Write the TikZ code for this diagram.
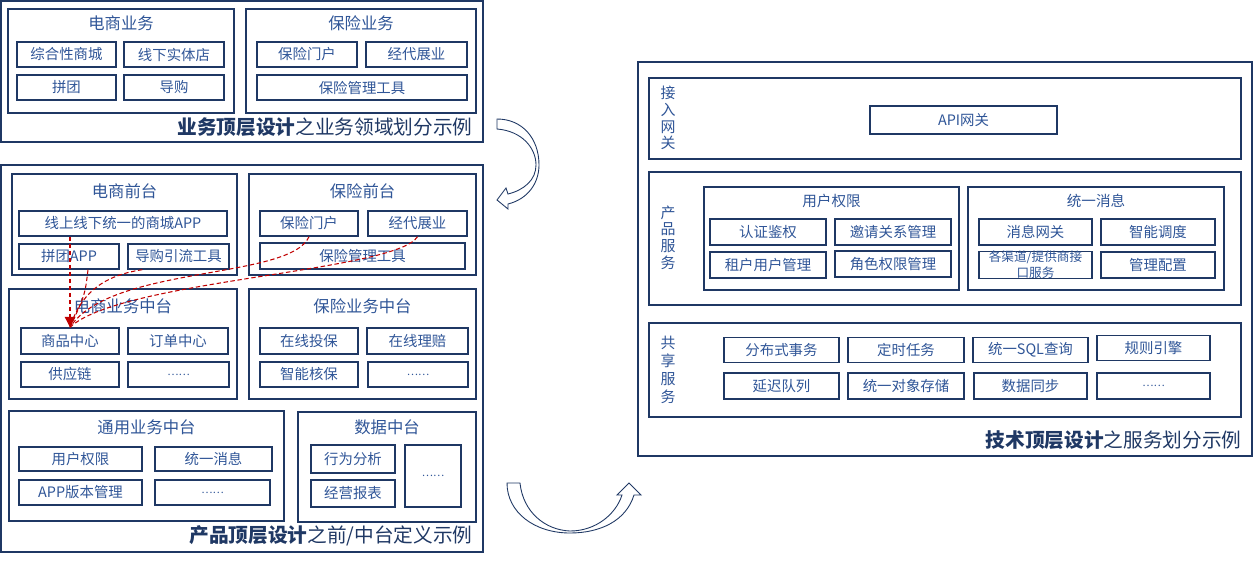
\documentclass[tikz,border=0pt]{standalone}
\usepackage{fontspec}
\setmainfont{Noto Sans CJK SC}
\usetikzlibrary{arrows.meta,calc}
\definecolor{navy}{HTML}{1F3864}
\definecolor{txtblue}{HTML}{2F5597}
\definecolor{dashred}{HTML}{C00000}

\begin{document}
\begin{tikzpicture}[x=0.02cm,y=-0.02cm,
	sz/.style 2 args={minimum width=#1*0.02cm,minimum height=#2*0.02cm},
	panel/.style={draw=navy,line width=0.9pt,inner sep=0pt},
	area/.style={draw=navy,line width=0.8pt,inner sep=0pt},
	item/.style={draw=navy,line width=0.8pt,inner sep=0pt,text=txtblue,font=\fontsize{8.2}{9}\selectfont},
	dots/.style={font=\fontsize{6}{7}\selectfont},
	head/.style={text=txtblue,inner sep=0pt,font=\fontsize{9.3}{10}\selectfont},
	subhead/.style={text=txtblue,inner sep=0pt,font=\fontsize{8.3}{9}\selectfont},
	vlabel/.style={text=txtblue,inner sep=0pt,align=center,font=\fontsize{8.5}{9.5}\selectfont},
	ttl/.style={text=navy,inner sep=0pt,anchor=east,font=\fontsize{11.2}{12}\selectfont},
	flow/.style={draw=dashred,line width=0.6pt,dash pattern=on 2.5pt off 1.5pt},
	bendarrow/.style={draw=navy,line width=0.5pt,fill=white}]
	\useasboundingbox (0,0) rectangle (1255,561);

	% business top level
	\node[panel,sz={482}{141}] (biz) at (242,71.5) {};
	\node[area,sz={226}{104}] (ecBiz) at (121,61) {};
	\node[head] (ecBizT) at (121,23) {电商业务};
	\node[item,sz={99}{25}] (mall) at (66.5,54.5) {综合性商城};
	\node[item,sz={100}{25}] (store) at (174,54.5) {线下实体店};
	\node[item,sz={99}{25}] (group) at (66.5,87.5) {拼团};
	\node[item,sz={100}{25}] (guide) at (174,87.5) {导购};
	\node[area,sz={230}{104}] (insBiz) at (361,61) {};
	\node[head] (insBizT) at (361,23) {保险业务};
	\node[item,sz={100}{25}] (portal) at (307,54.5) {保险门户};
	\node[item,sz={101}{25}] (broker) at (416.5,54.5) {经代展业};
	\node[item,sz={210}{25}] (tool) at (362,87.5) {保险管理工具};
	\node[ttl] (bizT) at (473,127) {\textbf{业务顶层设计}之业务领域划分示例};

	% product top level
	\node[panel,sz={482}{387}] (prod) at (242,358.5) {};
	\node[area,sz={225}{101}] (ecFront) at (124.5,224.5) {};
	\node[head] (ecFrontT) at (124.5,191) {电商前台};
	\node[item,sz={208}{25}] (app) at (123,223.5) {线上线下统一的商城APP};
	\node[item,sz={100}{25}] (ptapp) at (69,256.5) {拼团APP};
	\node[item,sz={101}{25}] (dgyl) at (178.5,256.5) {导购引流工具};
	\node[area,sz={227}{101}] (insFront) at (362.5,224.5) {};
	\node[head] (insFrontT) at (362.5,191) {保险前台};
	\node[item,sz={98}{25}] (insPortal) at (309,223.5) {保险门户};
	\node[item,sz={99}{25}] (agent) at (417.5,223.5) {经代展业};
	\node[item,sz={205}{26}] (insTool) at (362.5,256) {保险管理工具};

	\node[area,sz={228}{110}] (ecMid) at (123,344) {};
	\node[head] (ecMidT) at (123,306) {电商业务中台};
	\node[item,sz={98}{26}] (goods) at (70,341) {商品中心};
	\node[item,sz={100}{26}] (order) at (178,341) {订单中心};
	\node[item,sz={98}{25}] (supply) at (70,374.5) {供应链};
	\node[item,dots,sz={101}{25}] (ecMore) at (178.5,374.5) {……};
	\node[area,sz={227}{110}] (insMid) at (362.5,344) {};
	\node[head] (insMidT) at (362.5,306) {保险业务中台};
	\node[item,sz={98}{26}] (online) at (309,341) {在线投保};
	\node[item,sz={101}{26}] (claim) at (417.5,341) {在线理赔};
	\node[item,sz={98}{25}] (uw) at (309,374.5) {智能核保};
	\node[item,dots,sz={100}{25}] (insMore) at (418,374.5) {……};

	\node[area,sz={275}{110}] (common) at (146.5,466) {};
	\node[head] (commonT) at (146.5,427) {通用业务中台};
	\node[item,sz={123}{24}] (auth) at (80.5,459) {用户权限};
	\node[item,sz={117}{24}] (msg) at (213.5,459) {统一消息};
	\node[item,sz={123}{25}] (appver) at (80.5,492.5) {APP版本管理};
	\node[item,dots,sz={115}{25}] (cmMore) at (212.5,492.5) {……};
	\node[area,sz={178}{110}] (data) at (387,467) {};
	\node[head] (dataT) at (387,427) {数据中台};
	\node[item,sz={84}{28}] (behav) at (353,459) {行为分析};
	\node[item,sz={84}{27}] (report) at (353,493.5) {经营报表};
	\node[item,dots,sz={56}{62}] (dataMore) at (433,476) {……};
	\node[ttl] (prodT) at (473,536) {\textbf{产品顶层设计}之前/中台定义示例};

	\draw[flow,-{Triangle[length=6pt,width=6pt]}] (goods.north |- app.south) -- (goods.north);
	\draw[flow] ($(ptapp.south)+(19,0)$) .. controls (85,295) .. (goods.north);
	\draw[flow] ($(dgyl.south west)+(15,0)$) .. controls (100,276) and (80,296) .. (goods.north);
	\draw[flow] (insPortal.south) .. controls (290,280) and (110,265) .. (goods.north);
	\draw[flow] (agent.south) .. controls (395,272) and (120,280) .. (goods.north);

	% technical top level
	\node[panel,sz={614}{394}] (tech) at (945,259) {};
	\node[area,sz={592}{81}] (gw) at (945,118.5) {};
	\node[vlabel] (gwT) at (668,118) {接\\入\\网\\关};
	\node[item,sz={187}{28}] (api) at (963.5,120) {API网关};

	\node[area,sz={592}{133}] (svc) at (945,238.5) {};
	\node[vlabel] (svcT) at (668,237.5) {产\\品\\服\\务};
	\node[area,sz={255}{103}] (perm) at (831.5,238.5) {};
	\node[subhead] (permT) at (831.5,201) {用户权限};
	\node[item,sz={116}{26}] (authn) at (768,232) {认证鉴权};
	\node[item,sz={116}{26}] (invite) at (893,232) {邀请关系管理};
	\node[item,sz={116}{26}] (tenant) at (768,265) {租户用户管理};
	\node[item,sz={116}{26}] (role) at (893,264) {角色权限管理};
	\node[area,sz={256}{103}] (unimsg) at (1096,238.5) {};
	\node[subhead] (unimsgT) at (1096,201) {统一消息};
	\node[item,sz={113}{26}] (msggw) at (1035.5,232) {消息网关};
	\node[item,sz={114}{26}] (sched) at (1158,232) {智能调度};
	\node[item,sz={113}{26},align=center,font=\fontsize{7.2}{9}\selectfont] (chan) at (1035.5,265) {各渠道/提供商接\\口服务};
	\node[item,sz={114}{26}] (conf) at (1158,265) {管理配置};

	\node[area,sz={592}{94}] (share) at (945,370) {};
	\node[vlabel,font=\fontsize{8.5}{10.2}\selectfont] (shareT) at (668,370) {共\\享\\服\\务};
	\node[item,sz={115}{25}] (dist) at (781.5,350) {分布式事务};
	\node[item,sz={116}{25}] (timer) at (906,350) {定时任务};
	\node[item,sz={115}{25}] (sql) at (1030.5,350) {统一SQL查询};
	\node[item,sz={113}{25}] (rule) at (1153.5,348) {规则引擎};
	\node[item,sz={115}{26}] (delay) at (781.5,386) {延迟队列};
	\node[item,sz={116}{26}] (oss) at (906,386) {统一对象存储};
	\node[item,sz={113}{26}] (sync) at (1030.5,386) {数据同步};
	\node[item,dots,sz={113}{26}] (shMore) at (1153.5,386) {……};
	\node[ttl] (techT) at (1242,440) {\textbf{技术顶层设计}之服务划分示例};

	% curved arrows between panels
	\draw[bendarrow] (497,119) -- (497,129) .. controls (522,131) and (536,148) .. (536,165)
		.. controls (536,180) and (524,190) .. (508,194) -- (506,188) -- (497,200) -- (508,209) -- (508,204)
		.. controls (528,199) and (539,183) .. (539,165) .. controls (539,138) and (522,119) .. (497,119) -- cycle;
	\draw[bendarrow] (507,483) -- (520,483) .. controls (523,512) and (545,530) .. (570,531)
		.. controls (596,531) and (616,514) .. (622,495) -- (617,495) -- (629,483) -- (641,495) -- (634,495)
		.. controls (626,521) and (600,533) .. (570,533) .. controls (534,533) and (507,512) .. (507,483) -- cycle;
\end{tikzpicture}
\end{document}
